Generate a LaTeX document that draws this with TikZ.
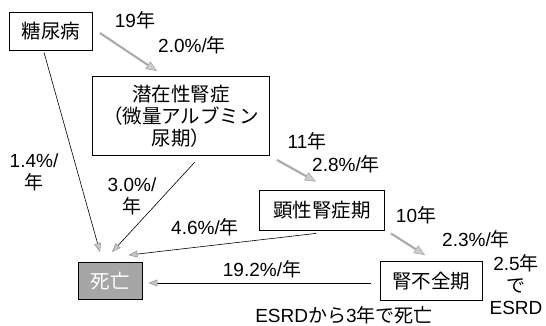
\documentclass[tikz,border=0pt]{standalone}
\usepackage{fontspec}
\setmainfont{Liberation Sans}
\newfontfamily\jp{Noto Sans CJK JP}
\usetikzlibrary{arrows.meta}
\begin{document}
\begin{tikzpicture}[x=1pt,y=-1pt,
  box/.style={draw=black,line width=0.8pt,inner sep=0pt,align=center,font=\jp\fontsize{19.5}{22}\selectfont},
  lbl/.style={inner sep=0pt,align=center,font=\fontsize{19}{22}\selectfont},
  prog/.style={draw=gray!65,line width=2.2pt,-{Triangle[length=11pt,width=9pt,fill=gray!40,color=gray!70,line width=0.6pt]}},
  die/.style={draw=black,line width=0.6pt,-{Triangle[length=9pt,width=7pt,fill=gray!45,color=gray!80,line width=0.6pt]}}]
\useasboundingbox (0,0) rectangle (546,326);
\node[box,minimum width=83pt,minimum height=38pt] (dm) at (51,31) {糖尿病};
\node[box,minimum width=177pt,minimum height=79pt] (lat) at (181,116) {潜在性腎症\\（微量アルブミン\\尿期）};
\node[box,minimum width=125pt,minimum height=40pt] (ovt) at (322,210) {顕性腎症期};
\node[box,minimum width=102pt,minimum height=39pt] (ren) at (431,281) {腎不全期};
\node[box,fill=gray!70,text=white,minimum width=64pt,minimum height=37pt] (dth) at (110,281) {死亡};
% progression arrows
\draw[prog] ([xshift=7pt,yshift=-2pt]dm.east) -- ([xshift=-24pt,yshift=5pt]lat.north);
\draw[prog] ([xshift=7pt,yshift=-4pt]lat.south east) -- ([xshift=-6pt,yshift=8pt]ovt.north);
\draw[prog] ([xshift=6pt,yshift=-3pt]ovt.south east) -- ([xshift=-6pt,yshift=6pt]ren.north);
% death arrows
\draw[die] ([xshift=-7pt,yshift=-2pt]dm.south) -- ([xshift=-10pt,yshift=10pt]dth.north);
\draw[die] ([xshift=14pt,yshift=-6pt]lat.south) -- ([xshift=2pt,yshift=10pt]dth.north);
\draw[die] ([xshift=-6pt,yshift=-3pt]ovt.south) -- ([xshift=-14pt,yshift=7pt]dth.north east);
\draw[die] ([xshift=-9pt,yshift=-2pt]ren.west) -- ([xshift=6pt,yshift=-2pt]dth.east);
% labels
\node[lbl] (l1) at (135,20) {19{\jp 年}};
\node[lbl] (l2) at (192,45) {2.0\%/{\jp 年}};
\node[lbl] (l3) at (307,141) {11{\jp 年}};
\node[lbl] (l4) at (346,164) {2.8\%/{\jp 年}};
\node[lbl] (l5) at (416,215) {10{\jp 年}};
\node[lbl] (l6) at (476,239) {2.3\%/{\jp 年}};
\node[lbl] (l7) at (516,285) {2.5{\jp 年}\\{\jp で}\\ESRD};
\node[lbl] (l8) at (34,172) {1.4\%/\\{\jp 年}};
\node[lbl] (l9) at (132,196) {3.0\%/\\{\jp 年}};
\node[lbl] (l10) at (205,227) {4.6\%/{\jp 年}};
\node[lbl] (l11) at (262,269) {19.2\%/{\jp 年}};
\node[lbl] (l12) at (344,315) {ESRD{\jp から}3{\jp 年で死亡}};
\end{tikzpicture}
\end{document}
